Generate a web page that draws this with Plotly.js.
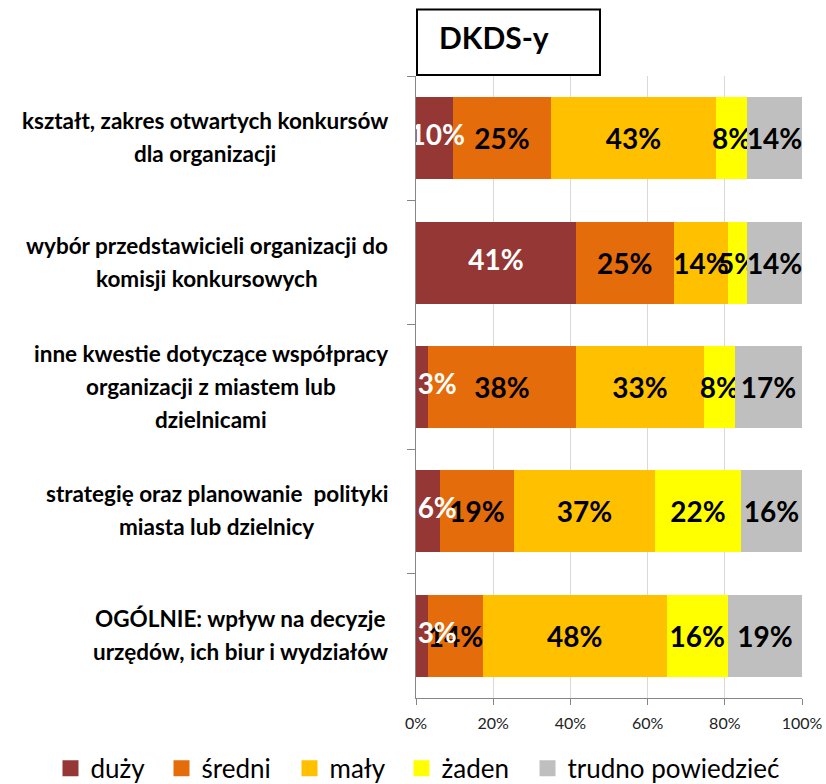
<!DOCTYPE html>
<html>
<head>
<meta charset="utf-8">
<script src="https://cdn.plot.ly/plotly-3.0.1.min.js"></script>
<style>
html,body{margin:0;padding:0;background:#fff;}
#chart{width:826px;height:784px;}
</style>
</head>
<body>
<div id="chart"></div>
<script>
// ---- data ----
const categories = [
  'kształt, zakres otwartych konkursów<br>dla organizacji',
  'wybór przedstawicieli organizacji do<br>komisji konkursowych',
  'inne kwestie dotyczące współpracy<br>organizacji z miastem lub<br>dzielnicami',
  'strategię oraz planowanie  polityki<br>miasta lub dzielnicy',
  'OGÓLNIE: wpływ na decyzje<br>urzędów, ich biur i wydziałów'
];
const seriesNames = ['duży', 'średni', 'mały', 'żaden', 'trudno powiedzieć'];
const duzy   = [9.6, 41.4, 3.1, 6.2, 3.1];
const sredni = [25.4, 25.4, 38.3, 19.2, 14.3];
const maly   = [42.7, 14.0, 33.2, 36.5, 47.5];
const zaden  = [8.1, 5.0, 8.0, 22.3, 15.9];
const trudno = [14.2, 14.2, 17.4, 15.8, 19.2];
const xTickVals = [0, 20, 40, 60, 80, 100];
const xTickText = ['0%', '20%', '40%', '60%', '80%', '100%'];
const chartTitle = 'DKDS-y';

// ---- styles ----
const colors = ['#953735', '#E46C0A', '#FFC000', '#FFFF00', '#BFBFBF'];
const labelColors = ['#ffffff', '#000000', '#000000', '#000000', '#000000'];
const FONT = 'Lato, "Open Sans", sans-serif';
const LABEL_SIZE = 28;
const seriesValues = [duzy, sredni, maly, zaden, trudno];
// legend entry positions (paper x of each entry's left side)
const legendX = [-0.9469, -0.6593, -0.3277, -0.0376, 0.2889];

const traces = [];
seriesValues.forEach((vals, i) => {
  const t = {
    type: 'bar',
    orientation: 'h',
    name: seriesNames[i],
    y: categories,
    x: vals,
    marker: {color: colors[i], line: {width: 0}},
    showlegend: false,
    hoverinfo: 'skip'
  };
  if (i > 0) {
    Object.assign(t, {
      text: vals.map(v => Math.round(v) + '%'),
      textposition: 'inside',
      insidetextanchor: 'middle',
      constraintext: 'none',
      textangle: 0,
      insidetextfont: {family: FONT, size: LABEL_SIZE, color: labelColors[i], weight: 'bold'}
    });
  }
  traces.push(t);
});
// labels of the first series: centred in the segment, but kept clear of the axis for thin segments
const MIN_LABEL_CENTER = 5.5;
traces.push({
  type: 'scatter', mode: 'text', showlegend: false, hoverinfo: 'skip',
  y: categories,
  x: duzy.map(v => Math.max(v / 2, MIN_LABEL_CENTER)),
  text: duzy.map(v => Math.round(v) + '%'),
  textposition: 'middle center',
  textfont: {family: FONT, size: LABEL_SIZE, color: labelColors[0], weight: 'bold'},
  cliponaxis: true
});
// legend-only markers (larger squares), each in its own legend box
seriesNames.forEach((n, i) => {
  traces.push({
    type: 'scatter', mode: 'markers', name: n,
    x: [null], y: [null],
    marker: {symbol: 'square', size: 16, color: colors[i]},
    showlegend: true, hoverinfo: 'skip',
    legend: i === 0 ? 'legend' : 'legend' + (i + 1)
  });
});

// category labels as centered multi-line annotations
const ctx = document.createElement('canvas').getContext('2d');
const catFontSize = 22.5;
ctx.font = 'bold ' + catFontSize + 'px Lato';
const annotations = [];
categories.forEach(cat => {
  const lines = cat.split('<br>');
  const maxW = Math.max(...lines.map(l => ctx.measureText(l).width));
  const n = lines.length;
  lines.forEach((line, j) => {
    annotations.push({
      xref: 'paper', x: 0, yref: 'y', y: cat,
      xanchor: 'center', yanchor: 'middle',
      xshift: -28 - maxW / 2,
      yshift: ((n - 1) / 2 - j) * 33 + 1,
      text: line, showarrow: false,
      font: {family: FONT, size: catFontSize, color: '#000', weight: 'bold'}
    });
  });
});
annotations.push({
  xref: 'paper', yref: 'paper', x: 0.055, y: 1.062,
  xanchor: 'left', yanchor: 'middle', showarrow: false,
  text: chartTitle,
  font: {family: FONT, size: 30, color: '#000', weight: 'bold'}
});

const layout = {
  width: 826, height: 784,
  margin: {l: 416, r: 24, t: 76, b: 86, autoexpand: false},
  paper_bgcolor: '#ffffff', plot_bgcolor: '#ffffff',
  barmode: 'stack', bargap: 0.34,
  showlegend: true,
  xaxis: {
    range: [0, 100], tickvals: xTickVals, ticktext: xTickText,
    showgrid: true, gridcolor: '#d9d9d9', gridwidth: 1,
    zeroline: false, showline: true, linecolor: '#868686', linewidth: 1,
    ticks: 'outside', ticklen: 6, tickcolor: '#868686',
    ticklabelstandoff: 5,
    tickfont: {family: FONT, size: 16, color: '#222'},
    fixedrange: true
  },
  yaxis: {
    type: 'category', autorange: 'reversed',
    showticklabels: false, showgrid: false, zeroline: false,
    showline: true, linecolor: '#868686', linewidth: 1,
    ticks: 'outside', ticklen: 8, tickcolor: '#868686', tickson: 'boundaries',
    fixedrange: true
  },
  shapes: [{
    type: 'rect', xref: 'paper', yref: 'paper',
    x0: 0.0026, x1: 0.4767, y0: 1.0016, y1: 1.107,
    line: {color: '#000', width: 2}, fillcolor: 'rgba(0,0,0,0)'
  }],
  annotations: annotations
};
legendX.forEach((lx, i) => {
  layout[i === 0 ? 'legend' : 'legend' + (i + 1)] = {
    orientation: 'h', x: lx, xanchor: 'left', y: -0.113, yanchor: 'middle',
    font: {family: FONT, size: 26, color: '#000'},
    bgcolor: 'rgba(0,0,0,0)',
    itemclick: false, itemdoubleclick: false
  };
});

Plotly.newPlot('chart', traces, layout, {displayModeBar: false, staticPlot: true});
</script>
</body>
</html>
